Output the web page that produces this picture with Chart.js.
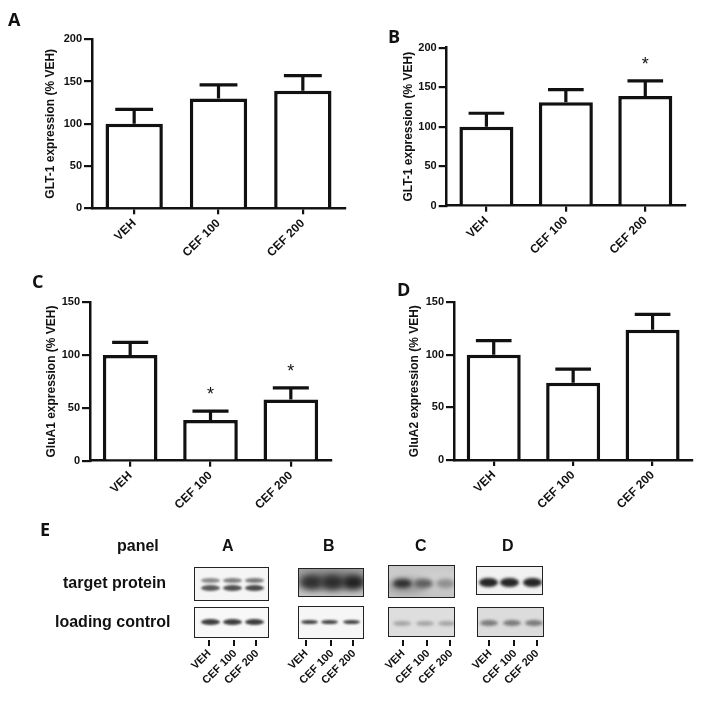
<!DOCTYPE html>
<html>
<head>
<meta charset="utf-8">
<script src="https://cdn.jsdelivr.net/npm/chart.js@4.4.1/dist/chart.umd.min.js"></script>
<style>
  html, body { margin: 0; padding: 0; background: #fff; }
  #fig { position: relative; width: 703px; height: 701px; overflow: hidden; background: #fff;
         font-family: "Liberation Sans", Arial, sans-serif; color: #111; }
  #fig canvas { position: absolute; }
  .letter { position: absolute; font: bold 18px/18px "Open Sans", sans-serif; color: #111; }
  .lbl { position: absolute; font: bold 16px/16px "Liberation Sans", Arial, sans-serif; white-space: nowrap; }
  .blot { position: absolute; box-sizing: border-box; border: 1.5px solid #222; overflow: hidden; }
  .band { position: absolute; border-radius: 50%; }
  .tick { position: absolute; width: 2px; height: 6px; background: #111; }
  .lane { position: absolute; font: bold 11px/12px "Liberation Sans", Arial, sans-serif; white-space: nowrap;
          transform-origin: 100% 50%; transform: rotate(-45deg); }
</style>
</head>
<body>
<div id="fig">
  <canvas id="chartA"></canvas>
  <canvas id="chartB"></canvas>
  <canvas id="chartC"></canvas>
  <canvas id="chartD"></canvas>

  <div class="letter" style="left:8px;top:10px">A</div>
  <div class="letter" style="left:388px;top:27px">B</div>
  <div class="letter" style="left:32px;top:272px">C</div>
  <div class="letter" style="left:397px;top:280px">D</div>
  <div class="letter" style="left:40px;top:520px">E</div>

  <div class="lbl" style="left:117px;top:538px">panel</div>
  <div class="lbl" style="left:222px;top:538px">A</div>
  <div class="lbl" style="left:323px;top:538px">B</div>
  <div class="lbl" style="left:415px;top:538px">C</div>
  <div class="lbl" style="left:502px;top:538px">D</div>
  <div class="lbl" style="left:63px;top:575px">target protein</div>
  <div class="lbl" style="left:55px;top:614px">loading control</div>
</div>
<script>
// categories and values
const categories = ['VEH', 'CEF 100', 'CEF 200'];

const glt1A = [100, 130, 139];
const glt1AErr = [17, 16, 18];

const glt1B = [100, 131, 139];
const glt1BErr = [17, 16, 19];
const glt1BStars = [false, false, true];

const gluA1 = [100, 38.5, 58];
const gluA1Err = [12, 8.5, 11];
const gluA1Stars = [false, true, true];

const gluA2 = [100, 73.5, 124];
const gluA2Err = [13.5, 13, 14.5];

const ink = '#111';
Chart.defaults.font.family = '"Liberation Sans", Arial, sans-serif';
Chart.defaults.font.weight = 'bold';
Chart.defaults.color = ink;

// SEM bars + significance stars, placed through the y scale
const errorBars = {
  id: 'errorBars',
  afterDatasetsDraw(chart, args, opts) {
    const ctx = chart.ctx;
    const y = chart.scales.y;
    const vals = chart.data.datasets[0].data;
    ctx.save();
    ctx.strokeStyle = ink;
    ctx.fillStyle = ink;
    ctx.lineWidth = 3.2;
    chart.getDatasetMeta(0).data.forEach((bar, i) => {
      const base = y.getPixelForValue(vals[i]);
      const top = y.getPixelForValue(vals[i] + opts.err[i]);
      const half = bar.width * 0.33;
      ctx.beginPath();
      ctx.moveTo(bar.x, base);
      ctx.lineTo(bar.x, top);
      ctx.moveTo(bar.x - half, top);
      ctx.lineTo(bar.x + half, top);
      ctx.stroke();
      if (opts.stars && opts.stars[i]) {
        ctx.font = 'normal 18px "Liberation Sans", Arial, sans-serif';
        ctx.textAlign = 'center';
        ctx.textBaseline = 'alphabetic';
        ctx.fillText('*', bar.x, top - 11);
      }
    });
    ctx.restore();
  }
};

function panel(id, values, err, stars, yMax, title, b) {
  const cv = document.getElementById(id);
  cv.width = b.w; cv.height = b.h;
  cv.style.left = b.left + 'px'; cv.style.top = b.top + 'px';
  cv.style.width = b.w + 'px'; cv.style.height = b.h + 'px';
  const yWidth = b.axisX - b.left;
  const xHeight = b.top + b.h - b.bottom;
  new Chart(cv, {
    type: 'bar',
    data: {
      labels: categories,
      datasets: [{
        data: values,
        backgroundColor: '#fff',
        borderColor: ink,
        borderWidth: 3.5,
        categoryPercentage: 1,
        barPercentage: 0.68
      }]
    },
    options: {
      responsive: false,
      animation: false,
      layout: { padding: { left: 0, top: b.plotTop - b.top, right: b.left + b.w - b.right, bottom: 0 } },
      plugins: {
        legend: { display: false },
        tooltip: { enabled: false },
        errorBars: { err: err, stars: stars }
      },
      scales: {
        x: {
          grid: { offset: false, drawOnChartArea: false, color: ink, lineWidth: 2.2, tickLength: 6 },
          border: { color: ink, width: 2.5 },
          ticks: { font: { size: 12, weight: 'bold' }, minRotation: 45, maxRotation: 45, padding: 2 },
          afterFit: s => { s.height = xHeight; }
        },
        y: {
          min: 0,
          max: yMax,
          grid: { drawOnChartArea: false, color: ink, lineWidth: 2.2, tickLength: 8 },
          border: { color: ink, width: 2.5 },
          ticks: { stepSize: 50, font: { size: 11, weight: 'bold' }, padding: 2 },
          title: { display: true, text: title, font: { size: 12, weight: 'bold' },
                   padding: { top: b.titleX - b.left - 7.2, bottom: 0 } },
          afterFit: s => { s.width = yWidth; }
        }
      }
    },
    plugins: [errorBars]
  });
}

panel('chartA', glt1A, glt1AErr, null, 200, 'GLT-1 expression (% VEH)',
  { left: 0, top: 0, w: 350, h: 290, axisX: 92, plotTop: 39.3, right: 345, bottom: 208.3, titleX: 51 });
panel('chartB', glt1B, glt1BErr, glt1BStars, 200, 'GLT-1 expression (% VEH)',
  { left: 350, top: 0, w: 353, h: 290, axisX: 446.7, plotTop: 47.7, right: 685, bottom: 205.7, titleX: 408.3 });
panel('chartC', gluA1, gluA1Err, gluA1Stars, 150, 'GluA1 expression (% VEH)',
  { left: 0, top: 270, w: 350, h: 280, axisX: 90, plotTop: 302.3, right: 331, bottom: 460.7, titleX: 51.7 });
panel('chartD', gluA2, gluA2Err, null, 150, 'GluA2 expression (% VEH)',
  { left: 350, top: 270, w: 353, h: 280, axisX: 454, plotTop: 302.3, right: 692.3, bottom: 460, titleX: 415 });

// panel E: western blot strips (image content, drawn as blurred bands)
const fig = document.getElementById('fig');
function blot(x, y, w, h, bg) {
  const d = document.createElement('div');
  d.className = 'blot';
  Object.assign(d.style, { left: x + 'px', top: y + 'px', width: w + 'px', height: h + 'px', background: bg });
  d.ox = x; d.oy = y;
  fig.appendChild(d);
  return d;
}
function band(p, cx, cy, w, h, color, blur) {
  const d = document.createElement('div');
  d.className = 'band';
  Object.assign(d.style, {
    left: (cx - p.ox - w / 2) + 'px', top: (cy - p.oy - h / 2) + 'px',
    width: w + 'px', height: h + 'px', background: color, filter: 'blur(' + blur + 'px)'
  });
  p.appendChild(d);
}
function lanes(xs) {
  xs.forEach((x, i) => {
    const t = document.createElement('div');
    t.className = 'tick';
    Object.assign(t.style, { left: (x - 1) + 'px', top: '640px' });
    fig.appendChild(t);
    const l = document.createElement('div');
    l.className = 'lane';
    l.textContent = categories[i];
    Object.assign(l.style, { right: (703 - x) + 'px', top: (651 - 6) + 'px' });
    fig.appendChild(l);
  });
}

// A
const aT = blot(194, 567, 75, 34, '#f5f5f5');
[[209, '#8a8a8a', '#5a5a5a'], [231, '#808080', '#505050'], [253, '#7a7a7a', '#4a4a4a']].forEach(([x, c1, c2]) => {
  band(aT, x, 579.5, 19, 5, c1, 1.3);
  band(aT, x, 586.5, 19, 6, c2, 1.3);
});
const aL = blot(194, 607, 75, 31, '#f8f8f8');
[209, 231, 253].forEach(x => band(aL, x, 620.5, 19, 6, '#3e3e3e', 1));
lanes([209, 234, 256]);

// B
const bT = blot(298, 568, 66, 29, 'linear-gradient(#a0a0a0, #b0b0b0 60%, #c8c8c8)');
band(bT, 331, 580, 70, 16, '#5e5e5e', 4);
[[310, '#2e2e2e'], [331, '#2a2a2a'], [352, '#1e1e1e']].forEach(([x, c]) => band(bT, x, 581, 21, 13, c, 3));
const bL = blot(298, 606, 66, 33, '#f6f6f6');
[308, 328, 350].forEach(x => band(bL, x, 620.5, 17, 4, '#444', 0.8));
lanes([306, 331, 353]);

// C
const cT = blot(388, 565, 67, 33, 'linear-gradient(#c8c8c8, #d2d2d2 40%, #c4c4c4)');
band(cT, 405, 585, 40, 16, '#9a9a9a', 4);
[[401, '#2e2e2e'], [422, '#5e5e5e'], [444.5, '#8e8e8e']].forEach(([x, c]) => band(cT, x, 582.5, 19, 9, c, 2));
const cL = blot(388, 607, 67, 30, '#dedede');
[401, 424, 446].forEach(x => band(cL, x, 622.5, 18, 5, '#a4a4a4', 1.5));
lanes([402.7, 427.3, 450]);

// D
const dT = blot(476, 566, 67, 29, '#f2f2f2');
[487.5, 508.5, 531.5].forEach(x => band(dT, x, 581.5, 19, 9, '#262626', 1.8));
const dL = blot(477, 607, 67, 30, '#dcdcdc');
[488, 511, 533].forEach(x => band(dL, x, 621.5, 18, 6, '#7a7a7a', 1.5));
lanes([489.3, 514, 536.7]);
</script>
</body>
</html>
